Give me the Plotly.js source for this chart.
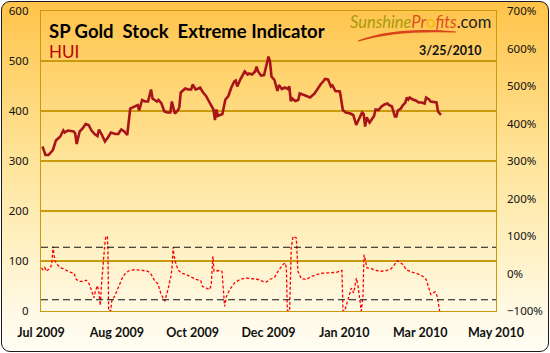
<!DOCTYPE html>
<html><head><meta charset="utf-8">
<script src="https://cdn.plot.ly/plotly-3.0.1.min.js"></script>
<style>
html,body{margin:0;padding:0;width:550px;height:353px;overflow:hidden;background:#ffffff;}
#bg{position:absolute;left:1px;top:1px;width:546px;height:349px;border:1px solid #1a1a1a;border-radius:9px;
background:linear-gradient(to bottom,#FFC34A 0%,#FFD16A 18%,#FFE294 42%,#FFF0C0 68%,#FFF9E4 88%,#FFFDF4 100%);}
#chart{position:absolute;left:0;top:0;width:550px;height:353px;}
</style></head>
<body><div id="bg"></div><div id="chart"></div>
<script>
// ---- data (x values are days after 2009-07-01) ----
const startDate = '2009-07-01';
const huiDay = [1,3,5,8,10,13,15,16,18,22,23,24,26,28,30,32,34,36,38,39,41,43,45,47,50,52,53,54,56,58,
  60,63,65,66,68,70,72,74,75,78,79,81,83,85,87,88,90,92,93,94,97,99,101,102,104,106,107,109,111,113,
  116,117,118,119,121,122,124,126,128,130,131,132,134,135,137,139,140,142,144,145,146,148,150,151,153,154,155,157,158,159,
  160,162,164,166,167,168,169,171,173,174,176,178,181,184,186,188,190,191,193,195,196,198,201,203,205,208,210,212,214,216,
  217,218,219,221,224,225,227,229,231,233,234,236,238,239,240,242,243,245,246,247,248,250,252,254,256,258,259,261,262,265,
  266,267,269];
const huiValue = [329,312,312,322,341,349,361,357,361,359,355,334,359,365,374,372,361,354,350,363,352,339,347,357,354,354,359,363,359,352,
  405,410,412,401,422,419,419,443,425,419,422,415,399,397,397,419,395,401,407,437,445,443,443,453,443,445,447,437,430,419,
  403,382,403,390,392,394,423,430,447,459,461,449,463,469,479,473,475,473,479,489,479,471,472,484,509,499,469,462,452,440,
  452,444,447,444,449,420,425,420,422,435,433,431,427,435,445,453,460,464,463,449,451,440,439,402,397,395,392,372,385,397,
  394,369,387,377,390,403,402,409,413,415,412,409,389,389,401,405,410,417,427,423,427,423,421,417,417,415,427,423,419,417,
  417,399,392];
const extDay = [0.2,1.3,2.5,3.6,4.7,6.5,7.4,8.1,8.7,9.6,11,12.6,14.8,17,19.3,22.2,23.8,26,28.2,30.5,32.1,33.8,35.6,36.5,37.9,39,39.9,40.6,
  41.7,42.8,43.5,44.6,45,45.5,46.9,47.7,49.5,51.3,52.9,55.1,57.4,59.6,63,66.4,68.6,72,74.2,76.4,78.7,80.5,82,83.2,85.4,87.6,
  88.3,88.8,89.4,90.3,92.1,94.4,97.7,101.1,104.4,107.4,108.5,111.2,113.4,114.5,115,115.6,116.4,119,121.7,122.8,123.5,124.7,
  126.9,130.2,133.6,138.1,142.6,145.9,149.3,151.5,153.8,157.1,159.4,162.7,164.3,165,165.7,167.2,168.3,169.5,171.7,172.8,
  175.1,178.4,181.8,185.1,189.6,194.1,198.6,202.4,203.1,204.2,206.5,208.7,210.3,212.1,213.2,214.3,215.4,216.6,217.2,218.1,
  219.2,222.2,225.5,228.9,232.3,235.6,237.9,239.7,241.2,243.4,245.7,249,253.5,256.9,259.1,260.3,262.1,263.6,265.2,266.5,267.4,268.1];
const extValue = [15,10,16,6,10,16,32,72,50,32,24,16,13,8,4,1,-16,-21,-21,-18,-25,-43,-65,-48,-32,-52,-85,-34,
  32,72,96,100,68,-100,-100,-70,-61,-43,-25,-8,3,8,10,10,8,6,-3,-19,-28,-52,-65,-74,-43,-3,
  24,70,50,32,10,1,-3,-10,-16,-19,-34,-39,-43,-30,6,46,6,8,6,-65,-88,-61,
  -43,-25,-16,-12,-14,-16,-21,-23,-16,-10,6,24,28,15,-100,-100,68,99,95,6,
  -14,-16,-8,-3,1,1,3,8,-100,-100,-70,-39,-52,-12,-34,-65,-100,-56,50,37,
  15,13,8,6,8,13,24,34,30,24,10,4,-1,-8,-16,-34,-56,-52,-49,-61,-92,-100];
const thresholds = [70, -70];
const xTickDay = [0,51,102,153,204,255,306];
const xTickLabels = ['Jul 2009','Aug 2009','Oct 2009','Dec 2009','Jan 2010','Mar 2010','May 2010'];
const leftRange = [0,600];
const rightRange = [-100,700];

// ---- helpers ----
const t0 = Date.parse(startDate + 'T00:00:00Z');
function toDate(d){
  const s = new Date(t0 + d*86400000).toISOString();
  return s.slice(0,10) + ' ' + s.slice(11,16);
}
const gold = '#C99A0B';

const traces = [
  {x: huiDay.map(toDate), y: huiValue, type:'scatter', mode:'lines', yaxis:'y',
   line:{color:'#A8141A', width:2.6}, hoverinfo:'skip'},
  {x: extDay.map(toDate), y: extValue, type:'scatter', mode:'lines', yaxis:'y2',
   line:{color:'#FF0000', width:1.3, dash:'3px,2px'}, hoverinfo:'skip'}
];

const shapes = thresholds.map(v => ({type:'line', xref:'paper', yref:'y2', x0:0, x1:1, y0:v, y1:v,
  line:{color:'#111', width:1.2, dash:'7px,4px'}, layer:'above'}));
// logo swoosh
shapes.push({type:'path', xref:'paper', yref:'paper', layer:'above',
  path:'M 0.697 0.900 Q 0.78 0.948 0.912 0.930 Q 0.78 0.938 0.697 0.900 Z',
  fillcolor:'#D9421A', line:{color:'#D9421A', width:1.2}});

const layout = {
  width:550, height:353,
  margin:{l:41, r:54, t:11, b:42, pad:0},
  paper_bgcolor:'rgba(0,0,0,0)', plot_bgcolor:'rgba(0,0,0,0)',
  showlegend:false,
  xaxis:{type:'date', range:[toDate(xTickDay[0]), toDate(xTickDay[xTickDay.length-1])],
    tickvals:xTickDay.map(toDate), ticktext:xTickLabels, ticks:'', showgrid:false, zeroline:false,
    showline:true, mirror:true, linecolor:gold, linewidth:1.2, ticklabelstandoff:10,
    tickfont:{family:'Lato', size:12.5, color:'#111', weight:'bold'}},
  yaxis:{range:leftRange, tick0:0, dtick:100, ticks:'', showgrid:true, gridcolor:gold, gridwidth:1.2,
    zeroline:false, showline:true, mirror:true, linecolor:gold, linewidth:1.2, ticklabelstandoff:9,
    tickfont:{family:'Noto Sans', size:11.5, color:'#111'}},
  yaxis2:{range:rightRange, tick0:-100, dtick:100, ticksuffix:'%', overlaying:'y', side:'right',
    ticks:'', showgrid:false, zeroline:false, showline:false, ticklabelstandoff:10,
    tickfont:{family:'Noto Sans', size:11.5, color:'#111'}},
  shapes:shapes,
  annotations:[
    {xref:'paper', yref:'paper', x:0.013, y:0.978, xanchor:'left', yanchor:'top', showarrow:false,
     text:'SP Gold  Stock  Extreme Indicator', font:{family:'Lato', size:18.5, color:'#000', weight:'bold'}},
    {xref:'paper', yref:'paper', x:0.013, y:0.905, xanchor:'left', yanchor:'top', showarrow:false,
     text:'HUI', font:{family:'Lato', size:17, color:'#C00000'}},
    {xref:'paper', yref:'paper', x:0.971, y:0.868, xanchor:'right', yanchor:'middle', showarrow:false,
     text:'3/25/2010', font:{family:'Lato', size:12.5, color:'#111', weight:'bold'}},
    {xref:'paper', yref:'paper', x:0.994, y:0.962, xanchor:'right', yanchor:'middle', showarrow:false,
     text:'<span style="color:#A99A0C;font-style:italic">Sunshine</span><span style="color:#E0501E;font-style:italic">Pr</span><span style="color:#F2B800">o</span><span style="color:#E0501E;font-style:italic">fits</span><span style="color:#222">.com</span>',
     font:{family:'Lato', size:16.5, color:'#222'}}
  ]
};

Plotly.newPlot('chart', traces, layout, {staticPlot:true, displayModeBar:false});
</script></body></html>
